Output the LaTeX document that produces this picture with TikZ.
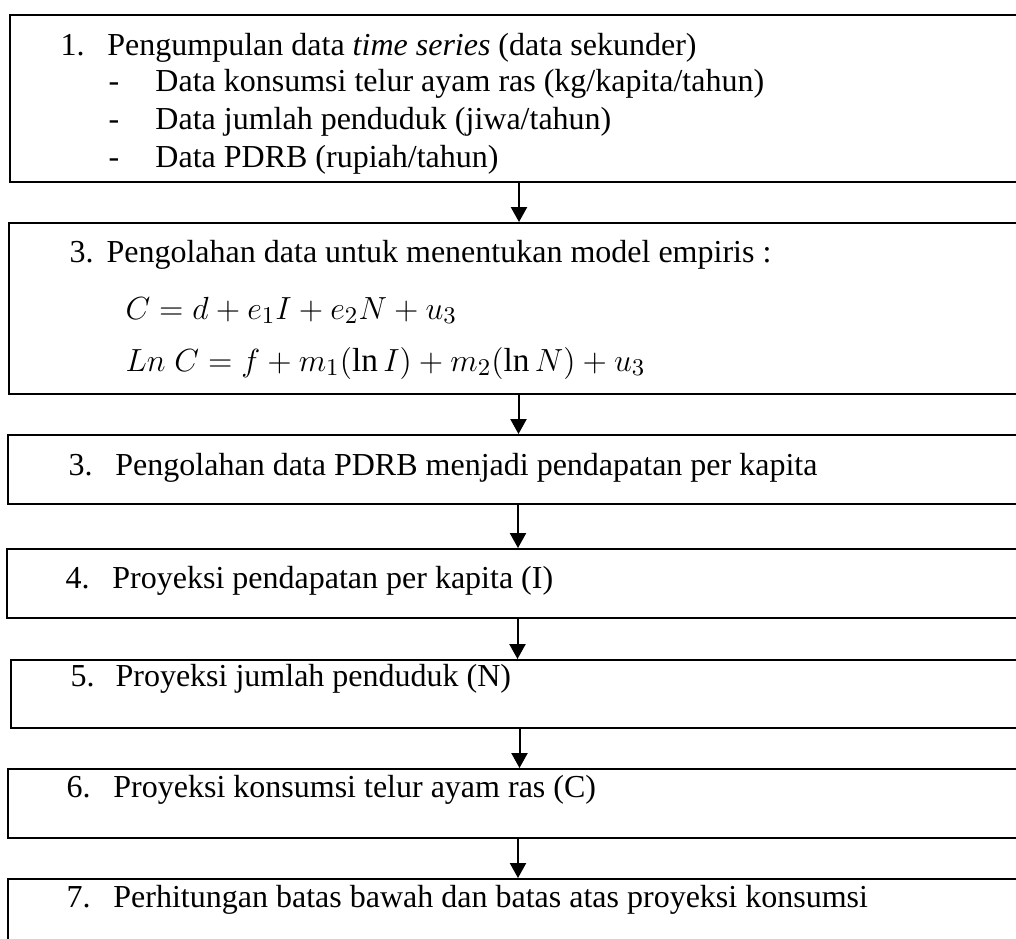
\documentclass[tikz,border=0pt]{standalone}
\usepackage{fontspec}
\setmainfont{Liberation Serif}
\usepackage{xcolor}
\usepackage{tikz}
\usetikzlibrary{arrows.meta,positioning,fit}
\tikzset{
    stepbox/.style={
        draw=black,
        rectangle,
        line width=0.75pt,
        inner sep=0pt
    },
    steptext/.style={
        anchor=base west,
        inner sep=0pt,
        font=\fontsize{12}{14}\selectfont
    },
    flow/.style={
        -{Triangle[length=5.6pt,width=6pt]},
        line width=0.75pt,
        color=black
    }
}
\newcommand{\stepnum}[2]{\makebox[#1][l]{#2}}

\begin{document}
\begin{tikzpicture}[x=0.375pt, y=-0.375pt]
    \useasboundingbox (0,0) rectangle (1016,938);
    \clip (0,0) rectangle (1016,938);

    \node[stepbox, fit={(10,15) (1028,182)}] (collect) {};
    \node[steptext] (collecttitle) at (60,55) {\stepnum{17.6pt}{1.}Pengumpulan data \textit{time series} (data sekunder)};
    \node[steptext] (collecta) at (108,91) {\stepnum{17.6pt}{-}Data konsumsi telur ayam ras (kg/kapita/tahun)};
    \node[steptext] (collectb) at (108,129) {\stepnum{17.6pt}{-}Data jumlah penduduk (jiwa/tahun)};
    \node[steptext] (collectc) at (108,167) {\stepnum{17.6pt}{-}Data PDRB (rupiah/tahun)};

    \node[stepbox, fit={(9,223) (1028,394)}] (model) {};
    \node[steptext] (modeltitle) at (69,262) {\stepnum{13.9pt}{3.}Pengolahan data untuk menentukan model empiris :};
    \node[steptext, font=\fontsize{12.5}{15}\selectfont] (modeleqa) at (125,319) {$C = d + e_1 I + e_2 N + u_3$};
    \node[steptext, font=\fontsize{12.5}{15}\selectfont] (modeleqb) at (125,371) {$Ln\;C = f + m_1(\ln I) + m_2(\ln N) + u_3$};

    \node[stepbox, fit={(8,435) (1028,504)}] (income) {};
    \node[steptext] (incometext) at (68,475) {\stepnum{17.6pt}{3.}Pengolahan data PDRB menjadi pendapatan per kapita};

    \node[stepbox, fit={(7,549) (1028,618)}] (projincome) {};
    \node[steptext] (projincometext) at (65,588) {\stepnum{17.6pt}{4.}Proyeksi pendapatan per kapita (I)};

    \node[stepbox, fit={(11,660) (1028,728)}] (projpop) {};
    \node[steptext] (projpoptext) at (70,686) {\stepnum{16.9pt}{5.}Proyeksi jumlah penduduk (N)};

    \node[stepbox, fit={(8,769) (1028,838)}] (projcons) {};
    \node[steptext] (projconstext) at (66,797) {\stepnum{17.6pt}{6.}Proyeksi konsumsi telur ayam ras (C)};

    \node[stepbox, fit={(8,879) (1028,960)}] (bounds) {};
    \node[steptext] (boundstext) at (66,907) {\stepnum{17.6pt}{7.}Perhitungan batas bawah dan batas atas proyeksi konsumsi};

    \draw[flow] (collect.south) -- (collect.south |- model.north);
    \draw[flow] (model.south) -- (model.south |- income.north);
    \draw[flow] (income.south) -- (income.south |- projincome.north);
    \draw[flow] (projincome.south) -- (projincome.south |- projpop.north);
    \draw[flow] (projpop.south) -- (projpop.south |- projcons.north);
    \draw[flow] (projcons.south) -- (projcons.south |- bounds.north);
\end{tikzpicture}
\end{document}
